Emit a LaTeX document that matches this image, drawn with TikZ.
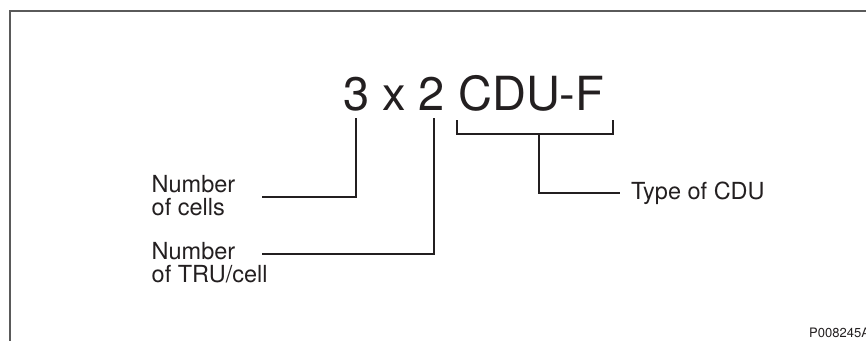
\documentclass[tikz,border=0pt]{standalone}
\usepackage{fontspec}
\setmainfont{TeX Gyre Heros}
\definecolor{ink}{HTML}{231F20}
\definecolor{framegray}{HTML}{5A5A5A}
\begin{document}
\begin{tikzpicture}[x=1pt,y=-1pt,
  frame/.style={draw=framegray,line width=1.8pt},
  conn/.style={draw=ink,line width=1.6pt},
  titletext/.style={anchor=base west,inner sep=0pt,text=ink,font=\fontsize{47}{47}\selectfont},
  lbl/.style={anchor=base west,inner sep=0pt,text=ink,align=left,font=\fontsize{23.5}{23.3}\selectfont},
  codetext/.style={anchor=base west,inner sep=0pt,text=ink,font=\fontsize{13}{13}\selectfont}]
\useasboundingbox (0,0) rectangle (866,340);
\coordinate (fbl) at (10,341);
\coordinate (ftl) at (10,11);
\coordinate (ftr) at (867,11);
\draw[frame] (fbl) -- (ftl) -- (ftr);
\node[titletext] (title) at (343,110) {3 x 2 CDU-F};
\node[lbl] (cells) at (151.5,215.7) {Number\\of cells};
\node[lbl] (tru) at (151.5,282.7) {Number\\of TRU/cell};
\node[lbl] (type) at (631,199) {Type of CDU};
\node[codetext] (code) at (809,337) {P008245A};
\coordinate (c3) at (355.7,118);
\coordinate (c2) at (434,118);
\coordinate (cellsend) at (262,196.7);
\coordinate (truend) at (262,254);
\draw[conn] (cellsend) -| (c3);
\draw[conn] (truend) -| (c2);
\coordinate (bl) at (457,120);
\coordinate (br) at (613,120);
\draw[conn] (bl) -- ++(0,14) -| (br);
\coordinate (stemtop) at (539,134);
\coordinate (typeend) at (620,193);
\draw[conn] (stemtop) |- (typeend);
\end{tikzpicture}
\end{document}
